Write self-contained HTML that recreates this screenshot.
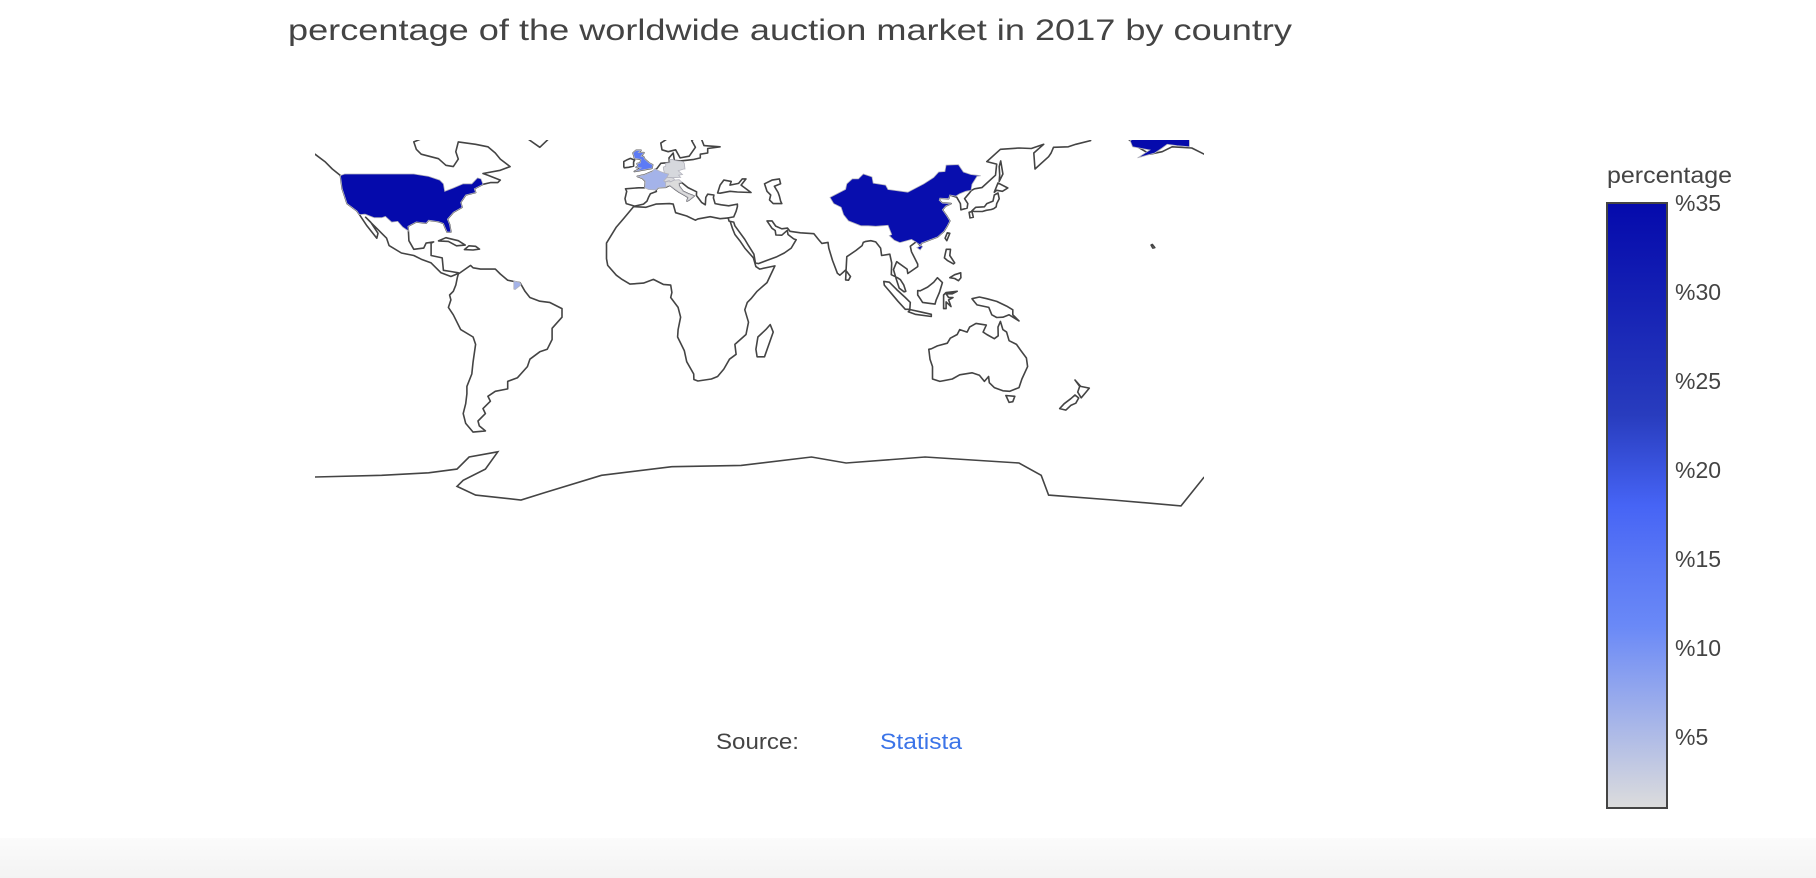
<!DOCTYPE html>
<html><head><meta charset="utf-8"><style>
html,body{margin:0;padding:0;background:#fff;}
svg{display:block;font-family:"Liberation Sans",sans-serif;}
</style></head><body>
<svg id="chart" width="1816" height="878" viewBox="0 0 1816 878">
<defs>
<clipPath id="mapclip"><rect x="315" y="140" width="889" height="380"/></clipPath>
<linearGradient id="cbgrad" x1="0" y1="1" x2="0" y2="0">
<stop offset="0" stop-color="rgb(220,220,220)"/><stop offset="0.3" stop-color="rgb(106,137,247)"/><stop offset="0.4" stop-color="rgb(90,120,245)"/><stop offset="0.5" stop-color="rgb(70,100,245)"/><stop offset="0.65" stop-color="rgb(40,60,190)"/><stop offset="1" stop-color="rgb(5,10,172)"/>
</linearGradient>
<linearGradient id="bottomband" x1="0" y1="0" x2="0" y2="1"><stop offset="0" stop-color="#fbfbfb"/><stop offset="1" stop-color="#f3f3f3"/></linearGradient>
</defs>
<rect x="0" y="838" width="1816" height="40" fill="url(#bottomband)"/>
<text x="288" y="40" font-size="30" fill="#444" textLength="1004" lengthAdjust="spacingAndGlyphs">percentage of the worldwide auction market in 2017 by country</text>
<g id="map" clip-path="url(#mapclip)"></g>
<g id="colorbar"></g>
<text x="716" y="749" font-size="22" fill="#444" textLength="83" lengthAdjust="spacingAndGlyphs">Source:</text>
<text x="880" y="749" font-size="22" fill="#3b74e8" textLength="82" lengthAdjust="spacingAndGlyphs">Statista</text>
</svg>
<script>
// ---- data ----
const countries = ['United States','China','United Kingdom','France','Germany','Switzerland','Italy'];
const values = [35, 34, 14, 6, 1.5, 1.2, 1];
const cbTicks = [5,10,15,20,25,30,35];
const cbTickLabels = ['%5','%10','%15','%20','%25','%30','%35'];
const cbMin = 1, cbMax = 35;

// ---- projection ----
const LON0=-135, PXDEG=2.47, X0=315, EQ=295;
function px(lon){return X0+(lon-LON0)*PXDEG;}
function py(lat){return EQ-lat*PXDEG;}
const NS='http://www.w3.org/2000/svg';
const scale=[[0,[220,220,220]],[0.3,[106,137,247]],[0.4,[90,120,245]],[0.5,[70,100,245]],[0.65,[40,60,190]],[1,[5,10,172]]];
function colorFor(v){
  let t=(v-cbMin)/(cbMax-cbMin);t=Math.max(0,Math.min(1,t));
  for(let i=1;i<scale.length;i++){if(t<=scale[i][0]){const a=scale[i-1],b=scale[i];const f=(t-a[0])/(b[0]-a[0]);
    const c=a[1].map((x,j)=>Math.round(x+(b[1][j]-x)*f));return 'rgb('+c.join(',')+')';}}
  return 'rgb(5,10,172)';
}

const land = {
 northAmerica:[[-168,65],[-162,60],[-157,57],[-152,58],[-148,60],[-140,59.5],[-135,57],[-131,54],[-128,51],[-124.7,48.4],[-124,43],[-122,37],[-118,34],[-117,32.5],[-114,28],[-110,23],[-109.5,25],[-112.5,29.5],[-114.5,31.5],[-112,29],[-109,26],[-106,23],[-105,20],[-100,17],[-95,16],[-92,14.5],[-88,13],[-86,11],[-84,9],[-80,7.5],[-77.5,8.5],[-77,9],[-80,9.5],[-83,10],[-83.5,15],[-88,16],[-88,21],[-87,21.5],[-90,21],[-91,19],[-95,18.5],[-97,22],[-97.2,25.9],[-97.4,27.8],[-94,29.6],[-90,29.1],[-89,30.3],[-85,29.7],[-83,29],[-81.5,25.5],[-80,25.5],[-80.5,28.5],[-81.4,30.7],[-79,33.5],[-75.5,35.5],[-76,37.5],[-74,40.5],[-70,41.5],[-70.5,43],[-67,44.8],[-64,45.5],[-61,45.5],[-60,46.5],[-65,48.5],[-67,49.2],[-60,50.5],[-56,52],[-60,55],[-62,57.5],[-65,60],[-70,61],[-77,62],[-78,58],[-77,55],[-79,52],[-82,52.5],[-85,55.2],[-92,57],[-94,59],[-95,62],[-90,64],[-88,68],[-100,68],[-120,70],[-140,70],[-160,71],[-166,68],[-165,65]],
 greenland:[[-44,59.8],[-50,64],[-54,68],[-40,68],[-38,65.5]],
 southAmerica:[[-77,8.5],[-72,12],[-71,11],[-68,10.5],[-62,10.5],[-60,8.5],[-57,6],[-52,5],[-50,1.5],[-48,-1],[-44,-2.5],[-40,-3],[-35,-5.5],[-35,-9],[-39,-13.5],[-39,-18],[-41,-22],[-44,-23],[-48,-26],[-49,-29],[-53,-33.5],[-57,-35],[-57,-38],[-62,-39],[-65,-41],[-64,-43],[-67,-46],[-66,-48],[-69,-51],[-68.5,-53],[-66,-55],[-71,-55.5],[-74,-52],[-75,-48],[-74,-44],[-73.5,-40],[-73.5,-37],[-71.5,-32],[-71,-27],[-70,-20],[-71,-17],[-76,-14],[-79,-8],[-81,-5],[-80,-2],[-80.5,0],[-79,1.5],[-78,4],[-77.4,7]],
 cuba:[[-85,21.9],[-82,23.2],[-77,22],[-74.2,20.2],[-77.7,19.9],[-81,21.7]],
 hispaniola:[[-74.5,18.4],[-72.7,19.9],[-70,19.7],[-68.4,18.6],[-71,18.2]],
 africa:[[-6,35.8],[-10,31],[-13,27.5],[-17,21],[-17,14.7],[-16.5,12],[-13,8],[-11,6.5],[-7.5,4.4],[-2,4.8],[2,6.3],[6,4.3],[9,4],[9.5,1],[9,-1],[12,-5],[13,-9],[12,-14],[11.8,-17],[14.5,-22.5],[15.5,-27],[18.3,-32],[18.4,-34.2],[20,-34.8],[25.5,-34],[28,-33],[30.5,-30],[32.8,-26],[35.5,-24],[35,-20],[39.5,-16],[40.5,-11],[39,-6],[40,-3],[41.5,-1.5],[44,1.5],[48,5],[51.2,11.8],[45,10.5],[43.5,11.5],[42.5,15],[39,19],[37,22],[35,24.5],[34,27],[33,30],[32.3,31.2],[29,30.9],[25,31.7],[20,30.8],[19,30.3],[15.5,32],[11,33.3],[10,36.8],[8.5,37],[3,36.8],[-1,35.5]],
 madagascar:[[44,-25],[47,-25],[50.5,-15],[49.3,-12],[47.5,-14],[44.3,-17],[43.5,-22]],
 eurasia:[[-5.6,36],[-9,37],[-9.5,39],[-8.8,42],[-9.3,43],[-4,43.4],[-1.5,43.4],[-1.2,46],[-2.4,47.2],[-4.5,48],[-1.5,48.7],[1.5,50],[3.5,51.3],[5,53.3],[8.5,53.6],[8.3,55.5],[10,57.5],[10.5,54.5],[13,54.3],[18,54.8],[21,55.5],[21,57],[24,57.5],[24,59.3],[29,60],[25,60.3],[22.5,60.5],[21.5,63],[25,65],[21.5,65.8],[17.5,62.5],[19,59.8],[16.5,56.2],[12.8,55.5],[11,58.8],[8,58],[5.5,58.8],[5,61.5],[8,63.5],[14,67],[20,70],[30,70],[40,67],[44,68],[55,68.5],[70,73],[80,73],[100,77],[110,74],[130,71],[150,71],[160,70],[170,70],[180,69],[190,66],[186,64.5],[178,64],[179,62.5],[173,61],[170,60],[164,59.8],[163,57.5],[162,56],[156.5,51],[156,57.5],[160,61],[155,59.3],[150,59.5],[142.5,59],[137,54],[141,53],[140.5,48.5],[135,43.5],[132,43],[130.7,42.3],[129.7,41],[128,39],[129.3,37],[129,35.2],[126.5,34.5],[126.3,37],[124.8,39.6],[122,40.5],[121.5,39],[118,39.2],[117.7,38.4],[119,37.2],[122.5,37],[120.3,36],[119,34.5],[120.8,32],[122,30],[121,28],[119.6,25.8],[117,23.5],[113.5,22.2],[110.5,21],[110,20],[108.5,21.6],[106,19.7],[106.5,17.5],[109,12.5],[109,11.5],[105,8.7],[104.7,10.5],[100.5,13.5],[99.2,10.3],[100.3,6.5],[101.5,2.8],[103.5,1.3],[104.2,1.5],[103.4,4],[102,6.2],[100.8,7],[98.3,8.2],[98.5,13],[97.7,16.5],[94.4,16],[94,19],[92,21.5],[90,22],[88,21.7],[87,21.3],[86.5,20],[84,18],[80.3,15.5],[80,10.3],[77.5,8],[76.5,8.8],[74.5,14],[73,19],[72.7,21.3],[70.2,20.9],[68.8,22.5],[67,24.8],[61.5,25.2],[57.3,25.8],[56.3,27.1],[54,26.8],[51.5,27.9],[50,30],[48,30],[50,27],[51.3,26.1],[51.6,24.3],[54,24.2],[56.2,26.2],[56.5,24.5],[58.8,22.7],[59.8,22.4],[57.8,19],[55,17],[52,15.5],[48,14],[44.5,12.7],[43.3,13],[42.7,16.5],[40.5,20],[39,22.5],[35,28],[34.5,29.5],[32.6,29.9],[32.3,31.2],[34.5,31.6],[35.5,33.9],[36,35.8],[36,36.8],[32.5,36.1],[29.5,36.5],[27,37],[26.3,39.3],[26.5,40.5],[24,40.8],[23.2,39.5],[23,36.5],[21.5,37.5],[19.4,40.3],[19.5,41.8],[16,43.5],[13.5,45.5],[12.3,45.2],[12.5,44],[14,42],[16,41],[18.5,40.1],[16.5,38.5],[15.6,38],[16.1,39.5],[15,40.2],[12.5,41.6],[10.5,43],[8.7,44.4],[7,43.6],[4,43.5],[3.1,42.5],[3.2,41.9],[0.8,41],[0,39.5],[-0.6,38],[-2,36.8]],
 blackSea:[[28,41.3],[29,44.5],[30.5,46.5],[33.5,46],[33,44.5],[36.5,45.2],[38,47],[39.5,47],[37.5,44.5],[41.5,41.5],[36,41.7],[33,42],[29,41.2]],
 caspian:[[47,45],[50,46.5],[53,47],[53.5,45],[51,44],[52.5,41.5],[53,40],[53.5,38],[54,37],[50.5,37],[49,38.5],[49.5,40.5],[48,42],[47.5,43.5]],
 britain:[[-5.7,50],[1.4,51.3],[1.7,52.7],[0.2,53.5],[-1.5,55],[-2,56],[-3,56.2],[-1.8,57.6],[-4,57.7],[-3,58.6],[-5,58.6],[-6.2,57.5],[-5.6,55.3],[-3,54.9],[-3.3,53.5],[-4.6,53.2],[-4.2,52.2],[-5,51.7],[-3,51.4]],
 ireland:[[-6,52.2],[-6,53.9],[-5.6,54.6],[-7.3,55.3],[-8.5,54.8],[-10,54],[-10,52],[-9.8,51.5],[-8,51.7]],
 iceland:[[-24,65.5],[-22,63.8],[-18,63.4],[-13.5,65.1],[-15,66.3],[-22,66.4]],
 sriLanka:[[79.8,6.1],[80,9.8],[81.8,7.5],[81,6]],
 honshu:[[130.9,34],[132.5,35.5],[136,35.7],[137,37],[139.5,38],[140,40.5],[141.5,41.3],[142,39],[141,37],[140.8,35.7],[139.8,35],[138.8,34.6],[136.8,34.3],[135.2,33.8],[132,33.8]],
 kyushu:[[129.8,33.5],[131,33.8],[131.5,31.5],[130.2,31.2]],
 hokkaido:[[140,41.6],[141.5,45.4],[145.5,43.3],[143.3,42],[141,42.4]],
 sakhalin:[[142,46],[143.5,49],[142.6,54.3],[142,52],[142.2,48.5]],
 taiwan:[[120.1,23],[121,25.2],[122,25],[120.8,22]],
 luzon:[[120,16],[120.6,18.5],[122.3,18.5],[122,16],[124,13],[123.5,12.6],[121,14],[119.8,15]],
 mindanao:[[122,7],[124,8.2],[126.4,9],[126.5,7],[125.5,5.8],[124,6.7]],
 borneo:[[109,1.8],[110,1.7],[113,3.2],[115.5,5.2],[117,7],[119,5],[117.8,1],[116.5,-2],[116,-3.7],[114,-3.4],[111,-3],[110,-1.5],[109,0]],
 sumatra:[[95.3,5.5],[97.5,5.2],[100.5,2.2],[104,-1],[106,-3],[105.8,-5.8],[104,-5.8],[101,-2.5],[98.5,0.5],[95.5,4]],
 java:[[105.2,-6.8],[106,-5.9],[110,-6.8],[114.5,-7.8],[114.5,-8.7],[108,-7.8]],
 sulawesi:[[119.5,-5.5],[119.5,0],[120.5,1],[125,1.5],[123,0.5],[120.5,0.5],[121.5,-1],[123.3,-1],[121.5,-2],[122.5,-4.7],[120.5,-2.8],[120.5,-5.5]],
 newGuinea:[[131,-1.5],[134,-0.8],[137,-1.5],[141,-2.6],[145,-4.5],[147.5,-6],[147.5,-8],[150,-10.5],[146,-8],[143.5,-9],[141,-9.1],[139,-8],[137.8,-5],[133,-4],[132,-2.8]],
 australia:[[113.5,-22],[114,-26],[115,-29],[115,-34],[118,-35],[123,-34],[126,-32.3],[131,-31.5],[134,-32.5],[136,-35],[137.7,-33],[138,-35.5],[140,-37.5],[143.5,-38.8],[146.3,-39],[150,-37.5],[151.2,-34],[153.5,-29],[153,-25.5],[150.8,-22.5],[149,-20],[146,-18.5],[145,-15],[143.5,-14],[142.5,-10.7],[141.5,-13],[141.6,-16.5],[140,-17.7],[137,-16],[135.5,-15],[136.8,-12.2],[132.6,-11.5],[130,-13],[129,-15],[126,-14],[125,-16],[122.2,-17.5],[121,-19.5],[117,-20.6],[114.5,-21.8]],
 tasmania:[[144.7,-40.7],[148.3,-41],[147.5,-43.2],[146,-43.5]],
 nzNorth:[[172.7,-34.4],[175,-37],[178.5,-37.7],[177,-39.5],[175.2,-41.6],[173.8,-39.3],[174.6,-37]],
 nzSouth:[[172.7,-40.5],[174.2,-41.7],[173,-43.8],[171,-44.7],[169,-46.6],[166.5,-46],[168.3,-44],[171,-42]],
 hawaii:[[-156,20.5],[-155,19.2],[-155.8,19],[-156.5,20.2]]
};
const antarctica=[[-135,-73.7],[-108,-73],[-89,-72],[-77.5,-70.5],[-72.6,-65.6],[-61,-63.5],[-66,-70.5],[-75,-75],[-77.5,-77.5],[-70,-81],[-51.6,-83],[-42,-80],[-19,-73],[9.5,-69.5],[37.5,-69],[66,-65.6],[80,-68],[112,-65.6],[150,-68],[159,-73],[162,-81],[188,-83],[215.6,-85.4],[225,-73.7]];

const shapes = {
 'United States':[[[-124.7,48.4],[-124,43],[-122,37],[-118,34],[-117,32.5],[-114.7,32.7],[-111,31.3],[-108,31.3],[-106.5,31.8],[-104,29.5],[-101.5,29.8],[-99.5,27.5],[-97.2,25.9],[-97.4,27.8],[-94,29.6],[-90,29.1],[-89,30.3],[-85,29.7],[-83,29],[-81.5,25.5],[-80,25.5],[-80.5,28.5],[-81.4,30.7],[-79,33.5],[-75.5,35.5],[-76,37.5],[-74,40.5],[-70,41.5],[-70.5,43],[-67,44.8],[-67.8,47],[-69.2,47.4],[-71.5,45],[-75,45],[-79,43.3],[-82.5,42],[-83,45],[-84.5,46.5],[-89,48],[-95,49],[-123,49]],
   [[-141,60],[-141,70],[-156,71.3],[-166,68.9],[-164,66.5],[-168,65.6],[-161,64.5],[-165,62.5],[-164,60],[-157,58.7],[-162,55.5],[-155,57.5],[-152,59.5],[-150,61],[-146,60.5]]],
 'China':[[[73.5,39.5],[75,37],[78,35.5],[79,32.5],[81,30],[86,28],[89,28],[92,27.8],[97,28.2],[98.5,24.5],[97.5,24],[99.5,22.2],[101.8,21.2],[106.5,22.5],[108,21.6],[110,20.2],[110.5,21],[113.5,22.2],[117,23.5],[119.6,25.8],[121,28],[122,30],[120.8,32],[119,34.5],[120.3,36],[122.5,37],[119,37.2],[117.7,38.4],[118,39.2],[121.5,39],[122,40.5],[124.4,40],[126,41],[128.5,42],[130.6,42.4],[131,44.8],[133,48],[134.5,48.3],[130.5,48.8],[127.5,49.8],[125.5,52.8],[120.5,52.6],[120,50],[117.5,49.8],[115.5,47.6],[111.5,45],[105,41.6],[97,42.7],[96,44.5],[91,45.3],[90.5,47.8],[87,49],[85,47],[82.5,47],[80.3,45],[79.8,42.8],[75,40.3]],
   [[108.7,19.2],[110.5,20],[111,19.6],[110,18.2]]],
 'United Kingdom':[land.britain],
 'France':[[[-1.2,46],[-1.5,43.4],[0,42.7],[3.1,42.5],[4,43.5],[7,43.6],[7.6,44.2],[7,45.5],[6.2,46.2],[7.5,47.6],[8.2,49],[6.5,49.4],[4.8,50],[2.5,51.1],[1.5,50],[-1.5,48.7],[-4.5,48],[-2.4,47.2]],
   [[-54.5,5.7],[-52,5],[-51.6,4.1],[-54,2.2],[-54.5,2.4]]],
 'Germany':[[[6.1,50.8],[6.5,49.4],[8.2,49],[7.5,47.6],[9.6,47.5],[13,47.6],[12.2,48.5],[13.8,48.8],[12.1,50.3],[14.3,51],[14.8,51],[14.5,53.3],[14,54],[10.5,54.5],[10,54.9],[8.6,54.9],[8.7,53.6],[7,53.4],[7,52.2],[6,51.8]]],
 'Switzerland':[[[6.2,46.2],[7,45.9],[8.4,46.3],[9,45.8],[10.4,46.5],[10.5,46.9],[9.6,47.5],[7.5,47.6]]],
 'Italy':[[[7,43.8],[8.7,44.4],[10.5,43],[12.5,41.6],[15,40.2],[16.1,39.5],[15.6,38],[16.5,38.5],[18.5,40.1],[16,41],[14,42],[12.5,44],[12.3,45.2],[13.5,45.7],[12.4,46.7],[10.4,46.5],[9,45.8],[7,45.9],[7,44.2]]]
};

function pathD(ring,off,close){
  return ring.map((p,i)=>(i?'L':'M')+px(p[0]+off).toFixed(1)+','+py(p[1]).toFixed(1)).join('')+(close?'Z':'');
}
const map=document.getElementById('map');
for(const key in land){
  let d='';
  for(const off of [0,360,-360]) d+=pathD(land[key],off,true);
  const el=document.createElementNS(NS,'path');
  el.setAttribute('d',d);el.setAttribute('fill','#fff');el.setAttribute('stroke','#444');
  el.setAttribute('stroke-width','1.6');el.setAttribute('stroke-linejoin','round');
  
  
  map.appendChild(el);
}
const ant=document.createElementNS(NS,'path');
ant.setAttribute('d',pathD(antarctica,0,false));
ant.setAttribute('fill','none');ant.setAttribute('stroke','#444');ant.setAttribute('stroke-width','1.6');


map.appendChild(ant);
countries.forEach((c,i)=>{
  let d='';
  for(const ring of shapes[c]) for(const off of [0,360,-360]) d+=pathD(ring,off,true);
  const el=document.createElementNS(NS,'path');
  el.setAttribute('d',d);el.setAttribute('fill',colorFor(values[i]));
  el.setAttribute('stroke','rgb(180,180,190)');el.setAttribute('stroke-width','0.8');
  
  
  map.appendChild(el);
});

// ---- colorbar ----
const cb=document.getElementById('colorbar');
const CBX=1607,CBW=60,CBT=203,CBB=808;
function cy(v){return CBB-(v-cbMin)/(cbMax-cbMin)*(CBB-CBT);}
const r=document.createElementNS(NS,'rect');
r.setAttribute('x',CBX);r.setAttribute('y',CBT);r.setAttribute('width',CBW);r.setAttribute('height',CBB-CBT);
r.setAttribute('fill','url(#cbgrad)');r.setAttribute('stroke','#444');r.setAttribute('stroke-width','2');


cb.appendChild(r);
const ct=document.createElementNS(NS,'text');
ct.setAttribute('x',1607);ct.setAttribute('y',183);ct.setAttribute('font-size','23');ct.setAttribute('fill','#444');
ct.setAttribute('textLength','125');ct.setAttribute('lengthAdjust','spacingAndGlyphs');
ct.textContent='percentage';


cb.appendChild(ct);
cbTicks.forEach((v,i)=>{
  const t=document.createElementNS(NS,'text');
  t.setAttribute('x',1675);t.setAttribute('y',cy(v)+8);t.setAttribute('font-size','23');t.setAttribute('fill','#444');
  t.textContent=cbTickLabels[i];
  
  
  cb.appendChild(t);
});
</script>
</body></html>
